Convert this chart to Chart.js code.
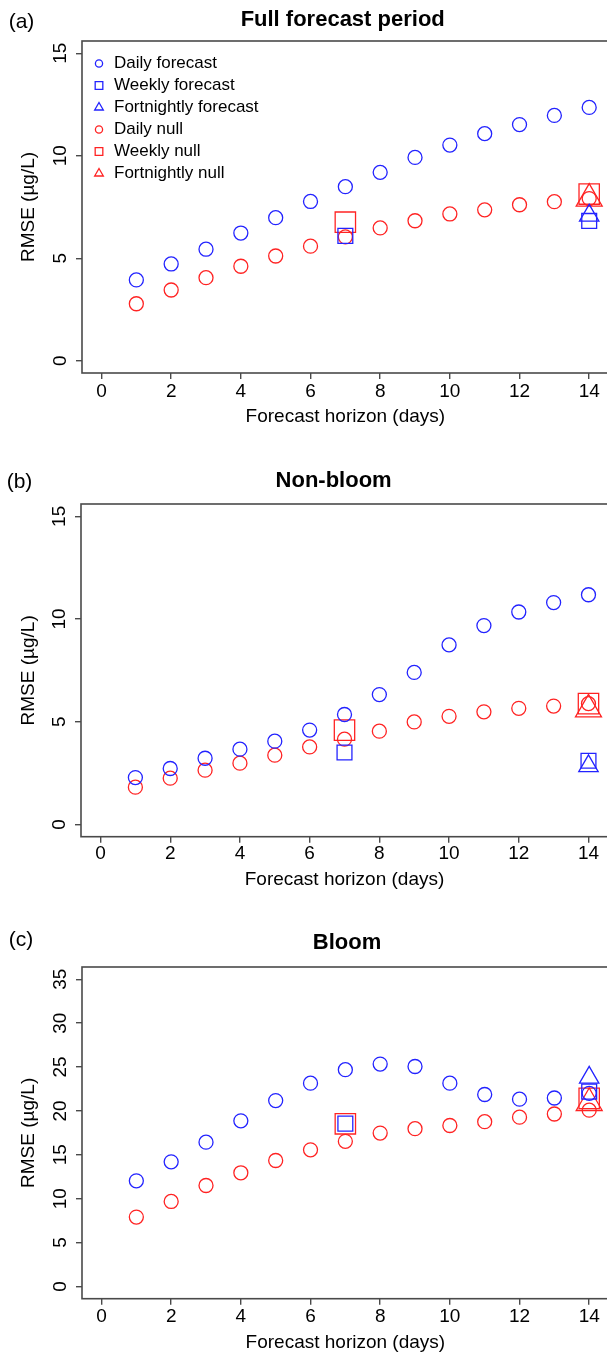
<!DOCTYPE html>
<html>
<head>
<meta charset="utf-8">
<script src="https://cdn.jsdelivr.net/npm/chart.js@4.4.1/dist/chart.umd.min.js"></script>
<style>
  html, body { margin: 0; padding: 0; background: #fff; overflow: hidden; }
  #page { position: relative; width: 607px; height: 1353px; overflow: hidden; }
  .panel { position: absolute; left: 0; }
</style>
</head>
<body>
<div id="page">
  <canvas id="panelA" class="panel" width="625" height="450" style="top:0px"></canvas>
  <canvas id="panelB" class="panel" width="625" height="450" style="top:450px"></canvas>
  <canvas id="panelC" class="panel" width="625" height="453" style="top:900px"></canvas>
</div>
<script>
// forecast horizons (days)
const horizonDays = [1, 2, 3, 4, 5, 6, 7, 8, 9, 10, 11, 12, 13, 14];
const weeklyDays = [7, 14];
const fortnightlyDays = [14];

// tick labels
const xTickValues = [0, 2, 4, 6, 8, 10, 12, 14];
const yTicksSmall = [0, 5, 10, 15];
const yTicksBloom = [0, 5, 10, 15, 20, 25, 30, 35];

// (a) full forecast period
const dailyForecastA = [3.94, 4.72, 5.44, 6.23, 6.98, 7.77, 8.49, 9.19, 9.92, 10.52, 11.08, 11.52, 11.97, 12.36];
const dailyNullA = [2.78, 3.45, 4.05, 4.61, 5.11, 5.59, 6.04, 6.48, 6.83, 7.16, 7.36, 7.61, 7.76, 7.91];
const weeklyForecastA = [6.09, 6.82];
const weeklyNullA = [6.76, 8.13];
const fortnightlyForecastA = [7.08];
const fortnightlyNullA = [7.91];

// (b) non-bloom
const dailyForecastB = [2.28, 2.72, 3.22, 3.66, 4.05, 4.59, 5.35, 6.32, 7.40, 8.74, 9.68, 10.34, 10.80, 11.18];
const dailyNullB = [1.81, 2.25, 2.64, 2.98, 3.37, 3.77, 4.15, 4.54, 4.99, 5.26, 5.48, 5.65, 5.76, 5.88];
const weeklyForecastB = [3.50, 3.10];
const weeklyNullB = [4.59, 5.88];
const fortnightlyForecastB = [2.84];
const fortnightlyNullB = [5.60];

// (c) bloom
const dailyForecastC = [12.03, 14.2, 16.44, 18.87, 21.18, 23.16, 24.7, 25.34, 25.06, 23.16, 21.87, 21.34, 21.47, 22.0];
const dailyNullC = [7.9, 9.68, 11.5, 12.95, 14.35, 15.57, 16.53, 17.47, 17.98, 18.34, 18.77, 19.29, 19.65, 20.08];
const weeklyForecastC = [18.55, 22.2];
const weeklyNullC = [18.53, 21.43];
const fortnightlyForecastC = [23.8];
const fortnightlyNullC = [20.9];

const BLUE = '#2323ff';
const RED = '#ff2323';
const AXIS = '#4a4a4a';
const FONT = '"Liberation Sans", Arial, Helvetica, sans-serif';

Chart.defaults.font.family = FONT;
Chart.defaults.color = '#000';

function pts(xs, ys) {
  return ys.map((y, i) => ({x: xs[i], y: y}));
}

function makeDatasets(p) {
  const base = {backgroundColor: 'rgba(0,0,0,0)', borderWidth: 1.3, showLine: false};
  return [
    {...base, label: 'Daily forecast', data: pts(horizonDays, p.dailyForecast), pointStyle: 'circle', pointRadius: 7, borderColor: BLUE},
    {...base, label: 'Weekly forecast', data: pts(weeklyDays, p.weeklyForecast), pointStyle: 'rect', pointRadius: 10.5, borderColor: BLUE},
    {...base, label: 'Fortnightly forecast', data: pts(fortnightlyDays, p.fortnightlyForecast), pointStyle: 'triangle', pointRadius: 11.2, borderColor: BLUE},
    {...base, label: 'Daily null', data: pts(horizonDays, p.dailyNull), pointStyle: 'circle', pointRadius: 7, borderColor: RED},
    {...base, label: 'Weekly null', data: pts(weeklyDays, p.weeklyNull), pointStyle: 'rect', pointRadius: 14.4, borderColor: RED},
    {...base, label: 'Fortnightly null', data: pts(fortnightlyDays, p.fortnightlyNull), pointStyle: 'triangle', pointRadius: 15, borderColor: RED}
  ];
}

// box round the plot region
const frameBox = {
  id: 'frameBox',
  afterDraw(chart) {
    const {left, top, right, bottom} = chart.chartArea;
    const ctx = chart.ctx;
    ctx.save();
    ctx.strokeStyle = AXIS;
    ctx.lineWidth = 1.6;
    ctx.strokeRect(left, top, right - left, bottom - top);
    ctx.restore();
  }
};

// panel letter and bold title
const panelText = {
  id: 'panelText',
  afterDraw(chart, args, o) {
    const ctx = chart.ctx;
    ctx.save();
    ctx.fillStyle = '#000';
    ctx.textBaseline = 'middle';
    ctx.textAlign = 'center';
    ctx.font = '21px ' + FONT;
    ctx.fillText(o.tag, o.tagX, o.tagY);
    ctx.font = 'bold 22px ' + FONT;
    ctx.fillText(o.title, o.titleX, o.titleY);
    ctx.restore();
  }
};

// legend inside the plot (panel a only)
const legendRadius = {circle: 3.6, rect: 5.4, triangle: 5};
const insideLegend = {
  id: 'insideLegend',
  afterDraw(chart, args, o) {
    if (!o.show) return;
    const ctx = chart.ctx;
    ctx.save();
    chart.data.datasets.forEach((ds, i) => {
      const y = o.y + i * o.step;
      ctx.strokeStyle = ds.borderColor;
      ctx.fillStyle = 'rgba(0,0,0,0)';
      ctx.lineWidth = 1.3;
      Chart.helpers.drawPoint(ctx, {pointStyle: ds.pointStyle, radius: legendRadius[ds.pointStyle], rotation: 0, borderWidth: 1.3}, o.x, y);
      ctx.fillStyle = '#000';
      ctx.font = '17px ' + FONT;
      ctx.textAlign = 'left';
      ctx.textBaseline = 'middle';
      ctx.fillText(ds.label, o.textX, y);
    });
    ctx.restore();
  }
};

function makePanel(id, p) {
  const cfg = {
    type: 'scatter',
    data: {datasets: makeDatasets(p)},
    options: {
      responsive: false,
      animation: false,
      events: [],
      layout: {padding: {top: p.padTop, right: p.padRight, bottom: 0, left: 0}},
      plugins: {
        legend: {display: false},
        tooltip: {enabled: false},
        panelText: {tag: p.tag, tagX: p.tagX, tagY: p.tagY, title: p.title, titleX: p.titleX, titleY: p.titleY},
        insideLegend: {show: p.legend, x: 99, textX: 114, y: 63.5, step: 22}
      },
      scales: {
        x: {
          type: 'linear',
          min: -0.56,
          max: 14.56,
          afterBuildTicks: (s) => { s.ticks = xTickValues.map(v => ({value: v})); },
          afterFit: (s) => { s.height = p.xHeight; },
          grid: {drawOnChartArea: false, drawTicks: true, tickLength: 6, color: AXIS, lineWidth: 1.4},
          border: {display: false},
          ticks: {autoSkip: false, maxRotation: 0, padding: p.xTickPad, font: {size: 19, lineHeight: 1.2}, color: '#000'},
          title: {display: true, text: 'Forecast horizon (days)', font: {size: 19, lineHeight: 1}, padding: {top: 0, bottom: p.xTitlePad}, color: '#000'}
        },
        y: {
          type: 'linear',
          min: p.yMin,
          max: p.yMax,
          afterBuildTicks: (s) => { s.ticks = p.yTicks.map(v => ({value: v})); },
          afterFit: (s) => { s.width = p.yWidth; },
          grid: {drawOnChartArea: false, drawTicks: true, tickLength: 6, color: AXIS, lineWidth: 1.4},
          border: {display: false},
          ticks: {autoSkip: false, minRotation: 90, maxRotation: 90, crossAlign: 'center', padding: 4.4, font: {size: 19, lineHeight: 1.2}, color: '#000'},
          title: {display: true, text: 'RMSE (µg/L)', font: {size: 19, lineHeight: 1}, padding: {top: 19.5, bottom: 0}, color: '#000'}
        }
      }
    },
    plugins: [frameBox, panelText, insideLegend]
  };
  return new Chart(document.getElementById(id), cfg);
}

makePanel('panelA', {
  dailyForecast: dailyForecastA, dailyNull: dailyNullA,
  weeklyForecast: weeklyForecastA, weeklyNull: weeklyNullA,
  fortnightlyForecast: fortnightlyForecastA, fortnightlyNull: fortnightlyNullA,
  tag: '(a)', tagX: 21.5, tagY: 22, title: 'Full forecast period', titleX: 342.7, titleY: 20,
  legend: true, yMin: -0.6, yMax: 15.6, yTicks: yTicksSmall,
  padTop: 41, padRight: 13, yWidth: 82, xHeight: 77, xTickPad: 1.3, xTitlePad: 23.8
});

makePanel('panelB', {
  dailyForecast: dailyForecastB, dailyNull: dailyNullB,
  weeklyForecast: weeklyForecastB, weeklyNull: weeklyNullB,
  fortnightlyForecast: fortnightlyForecastB, fortnightlyNull: fortnightlyNullB,
  tag: '(b)', tagX: 19.5, tagY: 32, title: 'Non-bloom', titleX: 333.6, titleY: 31,
  legend: false, yMin: -0.6, yMax: 15.6, yTicks: yTicksSmall,
  padTop: 54, padRight: 17, yWidth: 81, xHeight: 63.3, xTickPad: 0, xTitlePad: 10.5
});

makePanel('panelC', {
  dailyForecast: dailyForecastC, dailyNull: dailyNullC,
  weeklyForecast: weeklyForecastC, weeklyNull: weeklyNullC,
  fortnightlyForecast: fortnightlyForecastC, fortnightlyNull: fortnightlyNullC,
  tag: '(c)', tagX: 21, tagY: 40, title: 'Bloom', titleX: 347, titleY: 43,
  legend: false, yMin: -1.4, yMax: 36.4, yTicks: yTicksBloom,
  padTop: 67, padRight: 13, yWidth: 82, xHeight: 54.3, xTickPad: 0.6, xTitlePad: 0.8
});
</script>
</body>
</html>
